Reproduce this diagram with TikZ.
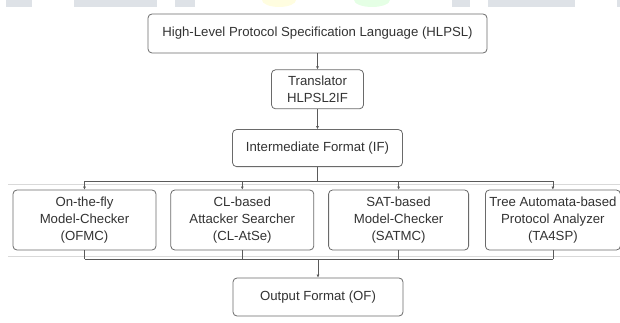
\documentclass[tikz,border=0pt]{standalone}
\usepackage{fontspec}
\setmainfont{Liberation Sans}
\usetikzlibrary{arrows.meta, positioning}
\definecolor{boxline}{HTML}{6A6A6A}
\definecolor{wirecol}{HTML}{5A5A5A}
\definecolor{inkcol}{HTML}{333333}
\definecolor{stripcol}{HTML}{DEE2E7}
\tikzstyle{block} = [draw=boxline, fill=white, rectangle, rounded corners=4pt, line width=0.8pt, text=inkcol, align=center, inner sep=2pt]
\tikzstyle{wire} = [draw=wirecol, line width=0.8pt]
\tikzstyle{rule} = [draw=gray!30, line width=0.8pt]

\begin{document}
\begin{tikzpicture}[x=1pt, y=-1pt, >={Latex[length=3pt,width=3pt]}, font=\fontsize{13.2}{17}\selectfont]
    \useasboundingbox (0,0) rectangle (620,323);
    % page strip along the top
    \fill [stripcol] (6,0) rectangle (32,7);
    \fill [stripcol] (74,0) rectangle (157,7);
    \fill [stripcol] (175,0) rectangle (195,7);
    \fill [yellow!12] (262,0) -- (296,0) arc (0:-180:17pt and 7pt) -- cycle;
    \fill [green!10] (354,0) -- (390,0) arc (0:-180:18pt and 7pt) -- cycle;
    \fill [stripcol] (452,0) rectangle (470,7);
    \fill [stripcol] (488,0) rectangle (575,7);
    \fill [stripcol] (617,0) rectangle (620,7);
    % page rules behind the buses
    \draw [rule] (8,184) -- (620,184);
    \draw [rule] (8,256) -- (620,256);
    \coordinate (topbus) at (0,181);
    \coordinate (lowbus) at (0,259);

    \node [block, minimum width=339pt, minimum height=39pt] (hlpsl) at (317.5,33.5) {High-Level Protocol Specification Language (HLPSL)};
    \node [block, minimum width=92pt, minimum height=39pt, below=16pt of hlpsl] (translator) {Translator\\HLPSL2IF};
    \node [block, minimum width=170pt, minimum height=37pt, below=20pt of translator] (if) {Intermediate Format (IF)};

    \node [block, minimum width=143pt, minimum height=60pt] (ofmc) at (84.5,220) {On-the-fly\\Model-Checker\\(OFMC)};
    \node [block, minimum width=143pt, minimum height=60pt, right=14pt of ofmc] (clatse) {CL-based\\Attacker Searcher\\(CL-AtSe)};
    \node [block, minimum width=140pt, minimum height=60pt, right=14pt of clatse] (satmc) {SAT-based\\Model-Checker\\(SATMC)};
    \node [block, minimum width=135pt, minimum height=60pt, right=16pt of satmc] (ta4sp) {Tree Automata-based\\Protocol Analyzer\\(TA4SP)};

    \node [block, minimum width=170pt, minimum height=38pt] (of) at (318,297) {Output Format (OF)};

    \draw [wire,->] (hlpsl) -- (translator);
    \draw [wire,->] (translator) -- (if);
    \draw [wire] (if.south) -- (if.south |- topbus);
    \draw [wire] (ofmc.north |- topbus) -- (ta4sp.north |- topbus);
    \draw [wire,->] (ofmc.north |- topbus) -- (ofmc.north);
    \draw [wire,->] (clatse.north |- topbus) -- (clatse.north);
    \draw [wire,->] (satmc.north |- topbus) -- (satmc.north);
    \draw [wire,->] (ta4sp.north |- topbus) -- (ta4sp.north);
    \draw [wire] (ofmc.south) -- (ofmc.south |- lowbus);
    \draw [wire] (clatse.south) -- (clatse.south |- lowbus);
    \draw [wire] (satmc.south) -- (satmc.south |- lowbus);
    \draw [wire] (ta4sp.south) -- (ta4sp.south |- lowbus);
    \draw [wire] (ofmc.south |- lowbus) -- (ta4sp.south |- lowbus);
    \draw [wire,->] (of.north |- lowbus) -- (of.north);
\end{tikzpicture}
\end{document}
